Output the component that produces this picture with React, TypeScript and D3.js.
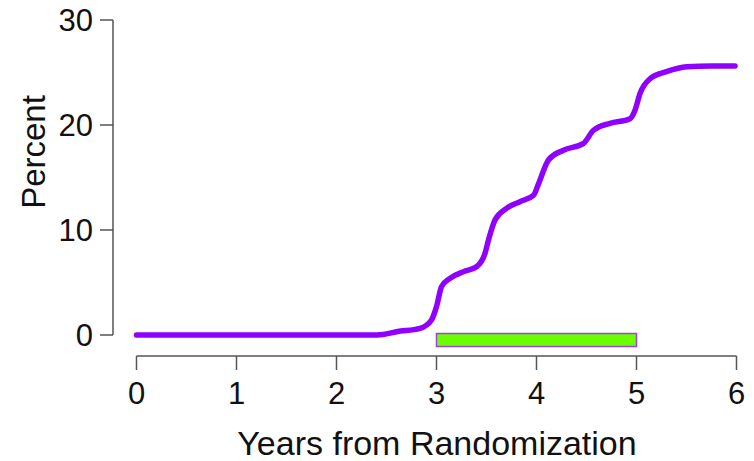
import React from "react";
import * as d3 from "d3";

const years = [0, 0.5, 1, 1.5, 2, 2.335, 2.465, 2.6, 2.835, 2.95, 3.0, 3.05, 3.135, 3.27, 3.4, 3.485, 3.52, 3.585, 3.7, 3.835, 3.97, 4.02, 4.12, 4.27, 4.47, 4.57, 4.735, 4.935, 4.985, 5.035, 5.135, 5.3, 5.5, 5.75, 5.985];
const percent = [0, 0, 0, 0, 0, 0, 0.05, 0.31, 0.63, 1.43, 2.7, 4.6, 5.4, 6.03, 6.5, 7.78, 9.05, 10.95, 12.06, 12.7, 13.3, 14.4, 16.67, 17.6, 18.25, 19.5, 20.16, 20.6, 21.4, 23.0, 24.4, 25.08, 25.55, 25.62, 25.62];
const xTicks = [0, 1, 2, 3, 4, 5, 6];
const yTicks = [0, 10, 20, 30];
const window_ = { start: 3, end: 5 };

const W = 754;
const H = 461;

export default function App() {
  const x = d3.scaleLinear().domain([0, 6]).range([136.5, 736.5]);
  const y = d3.scaleLinear().domain([0, 30]).range([335, 20]);
  const line = d3
    .line<number>()
    .x((_, i) => x(years[i]))
    .y((d) => y(d))
    .curve(d3.curveMonotoneX);
  const font = "'Liberation Sans', Arial, sans-serif";
  const axisColor = "#555555";
  const axisY = 356;
  const yAxisX = 113;
  return (
    <svg width={W} height={H} style={{ position: "absolute", left: 0, top: 0, background: "#fff" }} fontFamily={font}>
      {/* y axis */}
      <line x1={yAxisX} x2={yAxisX} y1={y(0)} y2={y(30)} stroke={axisColor} strokeWidth={1.5} />
      {yTicks.map((t) => (
        <g key={t}>
          <line x1={yAxisX - 13} x2={yAxisX} y1={y(t)} y2={y(t)} stroke={axisColor} strokeWidth={1.5} />
          <text x={93} y={y(t)} dy="0.36em" textAnchor="end" fontSize={31} fill="#111">
            {t}
          </text>
        </g>
      ))}
      <text
        transform={`translate(45,152) rotate(-90)`}
        textAnchor="middle"
        fontSize={33}
        fill="#111"
      >
        Percent
      </text>
      {/* x axis */}
      <line x1={x(0)} x2={x(6)} y1={axisY} y2={axisY} stroke={axisColor} strokeWidth={1.5} />
      {xTicks.map((t) => (
        <g key={t}>
          <line x1={x(t)} x2={x(t)} y1={axisY} y2={axisY + 14} stroke={axisColor} strokeWidth={1.5} />
          <text x={x(t)} y={404} textAnchor="middle" fontSize={31} fill="#111">
            {t}
          </text>
        </g>
      ))}
      <text x={437} y={455} textAnchor="middle" fontSize={34} fill="#111">
        Years from Randomization
      </text>
      {/* window bar */}
      <rect
        x={x(window_.start)}
        y={333.5}
        width={x(window_.end) - x(window_.start)}
        height={13}
        fill="#6CFF00"
        stroke="#A040E8"
        strokeWidth={1.5}
      />
      {/* curve */}
      <path d={line(percent) || ""} fill="none" stroke="#8F00FF" strokeWidth={5.5} strokeLinecap="round" strokeLinejoin="round" />
    </svg>
  );
}
